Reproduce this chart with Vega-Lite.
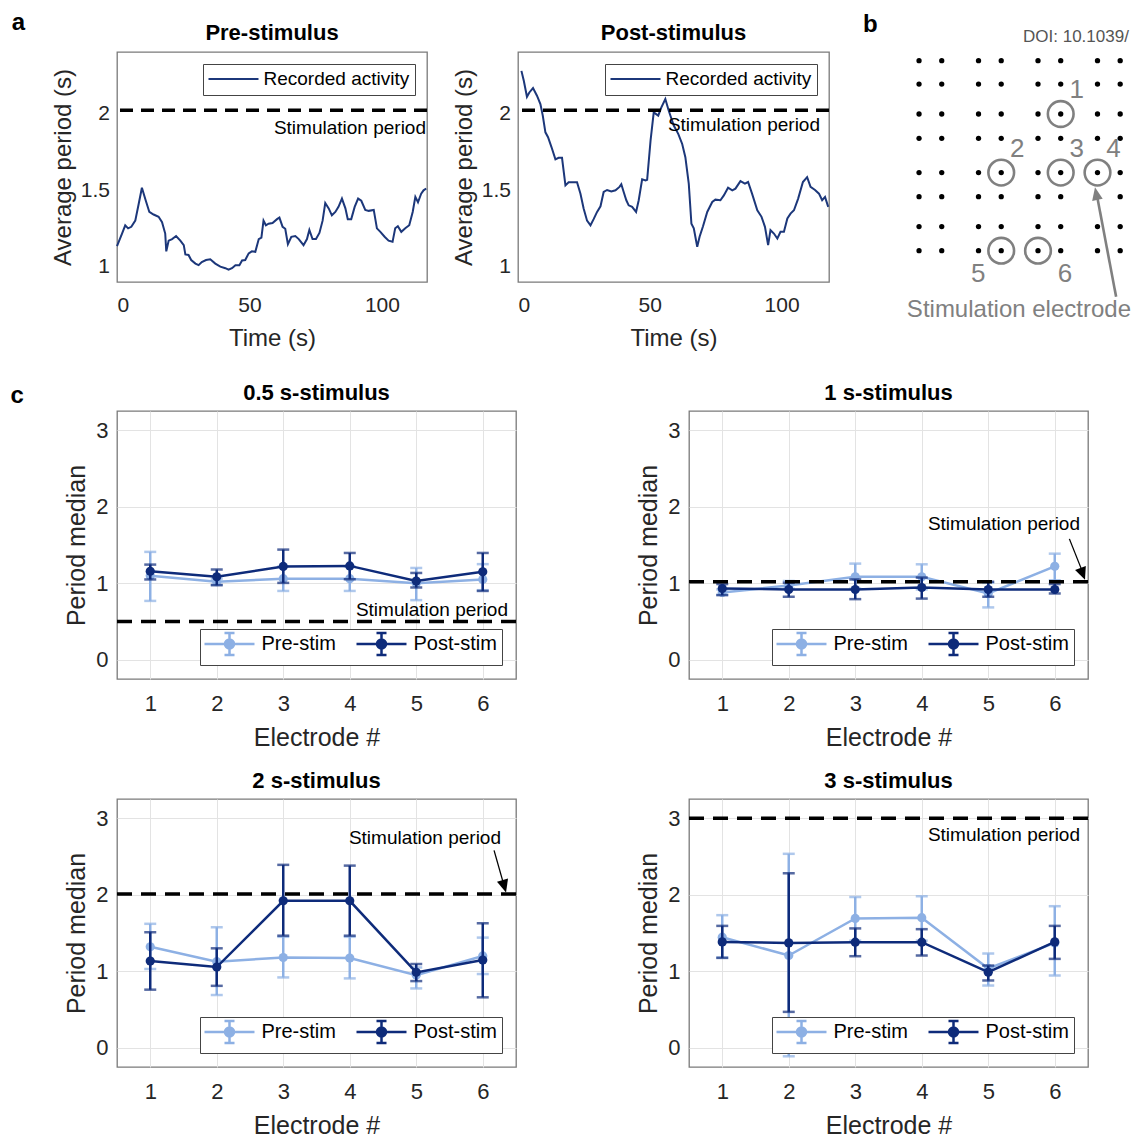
{
"$schema": "https://vega.github.io/schema/vega-lite/v6.json",
"background": "white",
"padding": {"left": 10, "top": 11, "right": 0, "bottom": 0},
"config": {
  "font": "Liberation Sans",
  "view": {"stroke": "#7a7a7a", "strokeWidth": 1.3},
  "title": {"font": "Liberation Sans", "fontSize": 22, "fontWeight": "bold", "color": "black", "frame": "group", "offset": 6},
  "axis": {"labelFont": "Liberation Sans", "titleFont": "Liberation Sans", "labelColor": "#262626", "titleColor": "#262626", "labelFontSize": 22, "titleFontSize": 25, "titleFontWeight": "normal", "domain": false, "ticks": false, "grid": true, "gridColor": "#e3e3e3", "gridWidth": 1},
  "axisX": {"labelPadding": 14, "titlePadding": 11},
  "axisY": {"labelPadding": 9, "titlePadding": 6},
  "legend": {"labelFont": "Liberation Sans", "labelColor": "black"}
},
"datasets": {
  "pre": [
    {"t":0,"v":1.134},{"t":1.9,"v":1.216},{"t":3.1,"v":1.27},{"t":4.2,"v":1.25},{"t":5.4,"v":1.26},{"t":6.9,"v":1.30},{"t":8.2,"v":1.41},{"t":9.4,"v":1.515},{"t":10.7,"v":1.44},{"t":12.2,"v":1.357},{"t":13.8,"v":1.34},{"t":15.7,"v":1.325},{"t":17,"v":1.29},{"t":18.2,"v":1.216},{"t":18.6,"v":1.10},{"t":19.5,"v":1.17},{"t":20.8,"v":1.18},{"t":22.3,"v":1.20},{"t":23.9,"v":1.17},{"t":25.2,"v":1.14},{"t":25.8,"v":1.08},{"t":27,"v":1.076},{"t":28,"v":1.043},{"t":29.6,"v":1.02},{"t":30.8,"v":1.01},{"t":32,"v":1.03},{"t":33.6,"v":1.043},{"t":35.2,"v":1.048},{"t":37.1,"v":1.02},{"t":39,"v":1.0},{"t":40.9,"v":0.99},{"t":42.1,"v":0.98},{"t":43.4,"v":0.99},{"t":44.7,"v":1.01},{"t":46.2,"v":1.01},{"t":47.2,"v":1.04},{"t":48.4,"v":1.043},{"t":49.7,"v":1.087},{"t":50.9,"v":1.10},{"t":52.2,"v":1.097},{"t":53.5,"v":1.18},{"t":54.5,"v":1.19},{"t":55.3,"v":1.30},{"t":56.2,"v":1.27},{"t":57.2,"v":1.28},{"t":58.7,"v":1.285},{"t":60.4,"v":1.31},{"t":61.3,"v":1.32},{"t":62.5,"v":1.26},{"t":63.5,"v":1.247},{"t":64.5,"v":1.147},{"t":65.8,"v":1.195},{"t":67.3,"v":1.2},{"t":68.6,"v":1.18},{"t":70.4,"v":1.14},{"t":71.7,"v":1.18},{"t":72.6,"v":1.24},{"t":73.8,"v":1.18},{"t":75.1,"v":1.18},{"t":76.4,"v":1.22},{"t":77.6,"v":1.30},{"t":78.6,"v":1.415},{"t":79.9,"v":1.38},{"t":81.1,"v":1.335},{"t":82.4,"v":1.357},{"t":83.6,"v":1.39},{"t":84.9,"v":1.444},{"t":86.2,"v":1.38},{"t":87.1,"v":1.31},{"t":88.4,"v":1.31},{"t":89.7,"v":1.39},{"t":91,"v":1.444},{"t":92.2,"v":1.43},{"t":93.7,"v":1.37},{"t":95,"v":1.364},{"t":96.9,"v":1.37},{"t":98.1,"v":1.25},{"t":99.4,"v":1.227},{"t":101,"v":1.195},{"t":102.5,"v":1.17},{"t":104,"v":1.162},{"t":105,"v":1.25},{"t":106,"v":1.264},{"t":107.3,"v":1.227},{"t":108.8,"v":1.25},{"t":110.3,"v":1.27},{"t":111.6,"v":1.357},{"t":112.6,"v":1.455},{"t":113.6,"v":1.42},{"t":114.8,"v":1.476},{"t":115.7,"v":1.498},{"t":116.7,"v":1.51}
  ],
  "post": [
    {"t":1.3,"v":2.277},{"t":2.2,"v":2.212},{"t":3.4,"v":2.108},{"t":4.3,"v":2.136},{"t":5.7,"v":2.165},{"t":7.2,"v":2.115},{"t":8.5,"v":2.06},{"t":9.4,"v":1.985},{"t":10.4,"v":1.876},{"t":11.4,"v":1.844},{"t":12.7,"v":1.78},{"t":14.2,"v":1.70},{"t":15.4,"v":1.71},{"t":16.7,"v":1.71},{"t":18,"v":1.53},{"t":19.2,"v":1.55},{"t":20.8,"v":1.55},{"t":22.4,"v":1.55},{"t":23.7,"v":1.476},{"t":24.9,"v":1.38},{"t":26.2,"v":1.30},{"t":27.5,"v":1.27},{"t":28.7,"v":1.31},{"t":30,"v":1.357},{"t":31.3,"v":1.394},{"t":32.5,"v":1.487},{"t":33.8,"v":1.50},{"t":35.4,"v":1.49},{"t":37,"v":1.498},{"t":38.5,"v":1.52},{"t":39.2,"v":1.537},{"t":40.1,"v":1.487},{"t":41.1,"v":1.433},{"t":42,"v":1.40},{"t":43.3,"v":1.39},{"t":44.8,"v":1.357},{"t":45.8,"v":1.433},{"t":47.1,"v":1.57},{"t":48.4,"v":1.563},{"t":49,"v":1.567},{"t":50.3,"v":1.823},{"t":51.5,"v":2.006},{"t":53.2,"v":1.985},{"t":54.4,"v":2.039},{"t":55.9,"v":2.093},{"t":57.2,"v":2.017},{"t":59.1,"v":1.92},{"t":60.8,"v":1.866},{"t":62.3,"v":1.80},{"t":63.5,"v":1.714},{"t":64.8,"v":1.54},{"t":65.8,"v":1.28},{"t":66.7,"v":1.25},{"t":68,"v":1.13},{"t":68.9,"v":1.195},{"t":70.2,"v":1.264},{"t":71.8,"v":1.357},{"t":73.7,"v":1.422},{"t":74.9,"v":1.437},{"t":76.8,"v":1.433},{"t":78.1,"v":1.465},{"t":79.7,"v":1.515},{"t":81.3,"v":1.498},{"t":82.5,"v":1.509},{"t":84.4,"v":1.558},{"t":86.1,"v":1.541},{"t":87.3,"v":1.552},{"t":88.8,"v":1.476},{"t":90.8,"v":1.368},{"t":92.4,"v":1.325},{"t":93.7,"v":1.26},{"t":94.9,"v":1.14},{"t":95.8,"v":1.238},{"t":97.1,"v":1.216},{"t":98.4,"v":1.184},{"t":99.6,"v":1.227},{"t":100.9,"v":1.227},{"t":102.2,"v":1.314},{"t":103.4,"v":1.346},{"t":104.7,"v":1.368},{"t":106.3,"v":1.444},{"t":108.1,"v":1.552},{"t":109.7,"v":1.584},{"t":111,"v":1.52},{"t":112.7,"v":1.50},{"t":114.2,"v":1.476},{"t":115.4,"v":1.433},{"t":116.5,"v":1.455},{"t":117.7,"v":1.39}
  ],
  "c": [
    {"stim":"0.5 s","electrode":1,"cond":"Pre-stim","median":1.097,"lo":0.77,"hi":1.41},
    {"stim":"0.5 s","electrode":2,"cond":"Pre-stim","median":1.02,"lo":0.98,"hi":1.06},
    {"stim":"0.5 s","electrode":3,"cond":"Pre-stim","median":1.06,"lo":0.90,"hi":1.22},
    {"stim":"0.5 s","electrode":4,"cond":"Pre-stim","median":1.06,"lo":0.90,"hi":1.22},
    {"stim":"0.5 s","electrode":5,"cond":"Pre-stim","median":1.0,"lo":0.78,"hi":1.2},
    {"stim":"0.5 s","electrode":6,"cond":"Pre-stim","median":1.05,"lo":0.91,"hi":1.25},
    {"stim":"0.5 s","electrode":1,"cond":"Post-stim","median":1.157,"lo":1.05,"hi":1.244},
    {"stim":"0.5 s","electrode":2,"cond":"Post-stim","median":1.084,"lo":0.975,"hi":1.18},
    {"stim":"0.5 s","electrode":3,"cond":"Post-stim","median":1.22,"lo":1.005,"hi":1.44},
    {"stim":"0.5 s","electrode":4,"cond":"Post-stim","median":1.227,"lo":1.053,"hi":1.396},
    {"stim":"0.5 s","electrode":5,"cond":"Post-stim","median":1.03,"lo":0.945,"hi":1.135},
    {"stim":"0.5 s","electrode":6,"cond":"Post-stim","median":1.15,"lo":0.90,"hi":1.396},
    {"stim":"1 s","electrode":1,"cond":"Pre-stim","median":0.88,"lo":0.85,"hi":0.92},
    {"stim":"1 s","electrode":2,"cond":"Pre-stim","median":0.97,"lo":0.93,"hi":1.03},
    {"stim":"1 s","electrode":3,"cond":"Pre-stim","median":1.084,"lo":0.93,"hi":1.257},
    {"stim":"1 s","electrode":4,"cond":"Pre-stim","median":1.084,"lo":0.92,"hi":1.248},
    {"stim":"1 s","electrode":5,"cond":"Pre-stim","median":0.867,"lo":0.685,"hi":1.006},
    {"stim":"1 s","electrode":6,"cond":"Pre-stim","median":1.222,"lo":1.04,"hi":1.387},
    {"stim":"1 s","electrode":1,"cond":"Post-stim","median":0.932,"lo":0.845,"hi":0.99},
    {"stim":"1 s","electrode":2,"cond":"Post-stim","median":0.919,"lo":0.824,"hi":1.006},
    {"stim":"1 s","electrode":3,"cond":"Post-stim","median":0.919,"lo":0.793,"hi":1.05},
    {"stim":"1 s","electrode":4,"cond":"Post-stim","median":0.945,"lo":0.80,"hi":1.075},
    {"stim":"1 s","electrode":5,"cond":"Post-stim","median":0.919,"lo":0.824,"hi":1.02},
    {"stim":"1 s","electrode":6,"cond":"Post-stim","median":0.919,"lo":0.867,"hi":0.99},
    {"stim":"2 s","electrode":1,"cond":"Pre-stim","median":1.32,"lo":1.03,"hi":1.62},
    {"stim":"2 s","electrode":2,"cond":"Pre-stim","median":1.125,"lo":0.69,"hi":1.575},
    {"stim":"2 s","electrode":3,"cond":"Pre-stim","median":1.18,"lo":0.92,"hi":1.45},
    {"stim":"2 s","electrode":4,"cond":"Pre-stim","median":1.173,"lo":0.907,"hi":1.45},
    {"stim":"2 s","electrode":5,"cond":"Pre-stim","median":0.95,"lo":0.776,"hi":1.05},
    {"stim":"2 s","electrode":6,"cond":"Pre-stim","median":1.2,"lo":0.964,"hi":1.44},
    {"stim":"2 s","electrode":1,"cond":"Post-stim","median":1.134,"lo":0.76,"hi":1.51},
    {"stim":"2 s","electrode":2,"cond":"Post-stim","median":1.055,"lo":0.81,"hi":1.30},
    {"stim":"2 s","electrode":3,"cond":"Post-stim","median":1.92,"lo":1.465,"hi":2.39},
    {"stim":"2 s","electrode":4,"cond":"Post-stim","median":1.92,"lo":1.465,"hi":2.38},
    {"stim":"2 s","electrode":5,"cond":"Post-stim","median":0.986,"lo":0.872,"hi":1.095},
    {"stim":"2 s","electrode":6,"cond":"Post-stim","median":1.147,"lo":0.66,"hi":1.627},
    {"stim":"3 s","electrode":1,"cond":"Pre-stim","median":1.445,"lo":1.18,"hi":1.733},
    {"stim":"3 s","electrode":2,"cond":"Pre-stim","median":1.206,"lo":-0.11,"hi":2.534},
    {"stim":"3 s","electrode":3,"cond":"Pre-stim","median":1.69,"lo":1.40,"hi":1.97},
    {"stim":"3 s","electrode":4,"cond":"Pre-stim","median":1.70,"lo":1.40,"hi":1.98},
    {"stim":"3 s","electrode":5,"cond":"Pre-stim","median":1.036,"lo":0.814,"hi":1.232},
    {"stim":"3 s","electrode":6,"cond":"Pre-stim","median":1.371,"lo":0.945,"hi":1.85},
    {"stim":"3 s","electrode":1,"cond":"Post-stim","median":1.384,"lo":1.175,"hi":1.593},
    {"stim":"3 s","electrode":2,"cond":"Post-stim","median":1.371,"lo":0.47,"hi":2.28},
    {"stim":"3 s","electrode":3,"cond":"Post-stim","median":1.38,"lo":1.197,"hi":1.56},
    {"stim":"3 s","electrode":4,"cond":"Post-stim","median":1.38,"lo":1.206,"hi":1.55},
    {"stim":"3 s","electrode":5,"cond":"Post-stim","median":0.988,"lo":0.88,"hi":1.075},
    {"stim":"3 s","electrode":6,"cond":"Post-stim","median":1.384,"lo":1.162,"hi":1.593}
  ],
  "grid": [
    {"gx":2.6,"gy":0.382},{"gx":3.6,"gy":0.382},{"gx":5.22,"gy":0.382},{"gx":6.22,"gy":0.382},{"gx":7.84,"gy":0.382},{"gx":8.84,"gy":0.382},{"gx":10.46,"gy":0.382},{"gx":11.46,"gy":0.382},
    {"gx":2.6,"gy":1.412},{"gx":3.6,"gy":1.412},{"gx":5.22,"gy":1.412},{"gx":6.22,"gy":1.412},{"gx":7.84,"gy":1.412},{"gx":8.84,"gy":1.412},{"gx":10.46,"gy":1.412},{"gx":11.46,"gy":1.412},
    {"gx":2.6,"gy":2.732},{"gx":3.6,"gy":2.732},{"gx":5.22,"gy":2.732},{"gx":6.22,"gy":2.732},{"gx":7.84,"gy":2.732},{"gx":8.84,"gy":2.732},{"gx":10.46,"gy":2.732},{"gx":11.46,"gy":2.732},
    {"gx":2.6,"gy":3.802},{"gx":3.6,"gy":3.802},{"gx":5.22,"gy":3.802},{"gx":6.22,"gy":3.802},{"gx":7.84,"gy":3.802},{"gx":8.84,"gy":3.802},{"gx":10.46,"gy":3.802},{"gx":11.46,"gy":3.802},
    {"gx":2.6,"gy":5.312},{"gx":3.6,"gy":5.312},{"gx":5.22,"gy":5.312},{"gx":6.22,"gy":5.312},{"gx":7.84,"gy":5.312},{"gx":8.84,"gy":5.312},{"gx":10.46,"gy":5.312},{"gx":11.46,"gy":5.312},
    {"gx":2.6,"gy":6.372},{"gx":3.6,"gy":6.372},{"gx":5.22,"gy":6.372},{"gx":6.22,"gy":6.372},{"gx":7.84,"gy":6.372},{"gx":8.84,"gy":6.372},{"gx":11.46,"gy":6.372},
    {"gx":2.6,"gy":7.692},{"gx":3.6,"gy":7.692},{"gx":5.22,"gy":7.692},{"gx":6.22,"gy":7.692},{"gx":7.84,"gy":7.692},{"gx":8.84,"gy":7.692},{"gx":10.46,"gy":7.692},{"gx":11.46,"gy":7.692},
    {"gx":2.6,"gy":8.752},{"gx":3.6,"gy":8.752},{"gx":5.22,"gy":8.752},{"gx":6.22,"gy":8.752},{"gx":7.84,"gy":8.752},{"gx":8.84,"gy":8.752},{"gx":10.46,"gy":8.752},{"gx":11.46,"gy":8.752}
  ],
  "elec": [
    {"n":"1","gx":8.84,"gy":2.732},{"n":"2","gx":6.22,"gy":5.312},{"n":"3","gx":8.84,"gy":5.312},{"n":"4","gx":10.46,"gy":5.312},{"n":"5","gx":6.22,"gy":8.752},{"n":"6","gx":7.84,"gy":8.752}
  ]
},
"spacing": 30,
"resolve": {"scale": {"color": "independent"}, "legend": {"color": "independent"}},
"vconcat": [
  {"resolve": {"scale": {"color": "independent"}, "legend": {"color": "independent"}},
   "hconcat": [
    {"title": {"text": "a", "anchor": "start", "frame": "bounds", "fontSize": 24, "fontWeight": "bold", "color": "black", "dx": -39, "offset": -14},
     "resolve": {"scale": {"color": "independent"}, "legend": {"color": "independent"}},
     "spacing": 20,
     "hconcat": [
      {"width": 310, "height": 230,
       "title": {"text": "Pre-stimulus", "offset": 7},
       "layer": [
        {"data": {"name": "pre"},
         "mark": {"type": "line", "strokeWidth": 2},
         "encoding": {
          "x": {"field": "t", "type": "quantitative", "scale": {"domain": [0, 117], "nice": false, "zero": false}, "axis": {"values": [0, 50, 100], "title": "Time (s)", "grid": false, "labelFontSize": 21, "titleFontSize": 24, "labelPadding": 12, "titlePadding": 11}},
          "y": {"field": "v", "type": "quantitative", "scale": {"domain": [0.9, 2.4], "nice": false, "zero": false}, "axis": {"values": [1, 1.5, 2], "format": "~g", "title": "Average period (s)", "grid": false, "labelFontSize": 21, "titleFontSize": 24, "labelPadding": 7.5, "titlePadding": 5}},
          "color": {"datum": "Recorded activity", "scale": {"range": ["#1c377a"]}, "legend": {"title": null, "orient": "top-right", "offset": 12, "symbolType": "M-3.333,0H3.333", "symbolSize": 225, "symbolOffset": 15.5, "symbolStrokeWidth": 2, "labelFontSize": 19, "labelOffset": 20.5, "padding": 5.5, "strokeColor": "#444", "fillColor": "white"}}
         }},
        {"data": {"values": [{}]}, "mark": {"type": "rule", "color": "black", "strokeWidth": 3.5, "strokeDash": [13, 8]}, "encoding": {"y": {"datum": 2.02}}},
        {"data": {"values": [{}]}, "mark": {"type": "text", "text": "Stimulation period", "align": "right", "baseline": "alphabetic", "fontSize": 19, "color": "black", "dx": -1}, "encoding": {"x": {"datum": 117}, "y": {"datum": 1.868}}}
       ]},
      {"width": 311, "height": 230,
       "title": {"text": "Post-stimulus", "offset": 7},
       "layer": [
        {"data": {"name": "post"},
         "mark": {"type": "line", "strokeWidth": 2},
         "encoding": {
          "x": {"field": "t", "type": "quantitative", "scale": {"domain": [0, 118], "nice": false, "zero": false}, "axis": {"values": [0, 50, 100], "title": "Time (s)", "grid": false, "labelFontSize": 21, "titleFontSize": 24, "labelPadding": 12, "titlePadding": 11}},
          "y": {"field": "v", "type": "quantitative", "scale": {"domain": [0.9, 2.4], "nice": false, "zero": false}, "axis": {"values": [1, 1.5, 2], "format": "~g", "title": "Average period (s)", "grid": false, "labelFontSize": 21, "titleFontSize": 24, "labelPadding": 7.5, "titlePadding": 5}},
          "color": {"datum": "Recorded activity", "scale": {"range": ["#1c377a"]}, "legend": {"title": null, "orient": "top-right", "offset": 12, "symbolType": "M-3.333,0H3.333", "symbolSize": 225, "symbolOffset": 15.5, "symbolStrokeWidth": 2, "labelFontSize": 19, "labelOffset": 20.5, "padding": 5.5, "strokeColor": "#444", "fillColor": "white"}}
         }},
        {"data": {"values": [{}]}, "mark": {"type": "rule", "color": "black", "strokeWidth": 3.5, "strokeDash": [13, 8]}, "encoding": {"y": {"datum": 2.02}}},
        {"data": {"values": [{}]}, "mark": {"type": "text", "text": "Stimulation period", "align": "right", "baseline": "alphabetic", "fontSize": 19, "color": "black", "dx": -9}, "encoding": {"x": {"datum": 118}, "y": {"datum": 1.887}}}
       ]}
     ]},
    {"width": 277, "height": 290,
     "view": {"stroke": null},
     "layer": [
       {"data": {"name": "grid"}, "mark": {"type": "point", "filled": true, "color": "black", "size": 28, "opacity": 1},
        "encoding": {
          "x": {"field": "gx", "type": "quantitative", "scale": {"domain": [0, 12.2], "nice": false, "zero": false}, "axis": null},
          "y": {"field": "gy", "type": "quantitative", "scale": {"domain": [0, 12.775], "reverse": true, "nice": false, "zero": false}, "axis": null}}},
       {"data": {"name": "elec"}, "mark": {"type": "point", "filled": false, "color": "#808080", "size": 660, "strokeWidth": 2.6, "opacity": 1},
        "encoding": {"x": {"field": "gx", "type": "quantitative", "axis": null}, "y": {"field": "gy", "type": "quantitative", "axis": null}}},
       {"data": {"name": "elec"}, "transform": [{"filter": "datum.n <= '4'"}], "mark": {"type": "text", "color": "#808080", "fontSize": 26, "align": "center", "baseline": "middle", "dx": 16, "dy": -24},
        "encoding": {"x": {"field": "gx", "type": "quantitative", "axis": null}, "y": {"field": "gy", "type": "quantitative", "axis": null}, "text": {"field": "n"}}},
       {"data": {"name": "elec"}, "transform": [{"filter": "datum.n === '5'"}], "mark": {"type": "text", "color": "#808080", "fontSize": 26, "align": "center", "baseline": "middle", "dx": -23, "dy": 23},
        "encoding": {"x": {"field": "gx", "type": "quantitative", "axis": null}, "y": {"field": "gy", "type": "quantitative", "axis": null}, "text": {"field": "n"}}},
       {"data": {"name": "elec"}, "transform": [{"filter": "datum.n === '6'"}], "mark": {"type": "text", "color": "#808080", "fontSize": 26, "align": "center", "baseline": "middle", "dx": 27, "dy": 23},
        "encoding": {"x": {"field": "gx", "type": "quantitative", "axis": null}, "y": {"field": "gy", "type": "quantitative", "axis": null}, "text": {"field": "n"}}},
       {"data": {"values": [{}]}, "mark": {"type": "rule", "color": "#808080", "strokeWidth": 2.6},
        "encoding": {"x": {"datum": 11.28, "type": "quantitative", "axis": null}, "y": {"datum": 10.78, "type": "quantitative", "axis": null}, "x2": {"datum": 10.42}, "y2": {"datum": 6.232}}},
       {"data": {"values": [{}]}, "mark": {"type": "point", "shape": "M0,0L-0.42,1L0.42,1Z", "filled": true, "color": "#808080", "size": 650, "angle": -11, "opacity": 1},
        "encoding": {"x": {"datum": 10.35, "type": "quantitative", "axis": null}, "y": {"datum": 5.962, "type": "quantitative", "axis": null}}},
       {"data": {"values": [{}]}, "mark": {"type": "text", "text": "Stimulation electrode", "color": "#808080", "fontSize": 24, "align": "center", "baseline": "middle"},
        "encoding": {"x": {"datum": 7.0, "type": "quantitative", "axis": null}, "y": {"datum": 11.36, "type": "quantitative", "axis": null}}},
       {"data": {"values": [{}]}, "mark": {"type": "text", "text": "b", "color": "black", "fontSize": 24, "fontWeight": "bold", "align": "left", "baseline": "middle"},
        "encoding": {"x": {"datum": 0.13, "type": "quantitative", "axis": null}, "y": {"datum": -1.19, "type": "quantitative", "axis": null}}},
       {"data": {"values": [{}]}, "mark": {"type": "text", "text": "DOI: 10.1039/", "color": "#555555", "fontSize": 17, "align": "left", "baseline": "middle"},
        "encoding": {"x": {"datum": 7.18, "type": "quantitative", "axis": null}, "y": {"datum": -0.658, "type": "quantitative", "axis": null}}}
     ]}
  ], "spacing": 27},
  {"title": {"text": "c", "anchor": "start", "frame": "bounds", "fontSize": 24, "fontWeight": "bold", "color": "black", "dx": -53.5, "offset": -27},
   "resolve": {"scale": {"color": "independent"}, "legend": {"color": "independent"}},
   "spacing": 18,
   "vconcat": [
    {"spacing": 117, "resolve": {"scale": {"color": "independent"}, "legend": {"color": "independent"}}, "hconcat": [
      {"width": 399, "height": 268, "title": {"text": "0.5 s-stimulus"},
       "layer": [
        {"data": {"name": "c"}, "transform": [{"filter": "datum.stim === '0.5 s'"}],
         "encoding": {
           "x": {"field": "electrode", "type": "quantitative", "scale": {"domain": [0.5, 6.5], "nice": false, "zero": false}, "axis": {"values": [1,2,3,4,5,6], "format": "d", "title": "Electrode #"}},
           "y": {"field": "median", "type": "quantitative", "scale": {"domain": [-0.25, 3.25], "nice": false, "zero": false}, "axis": {"values": [0,1,2,3], "format": "d", "title": "Period median"}},
           "color": {"field": "cond", "type": "nominal", "scale": {"domain": ["Pre-stim", "Post-stim"], "range": ["#8db0e4", "#0e2b7a"]}, "legend": {"title": null, "orient": "bottom-right", "offset": 14, "direction": "horizontal", "symbolType": "M-3.333,0H3.333M0,-1.467V1.467M-0.667,-1.467H0.667M-0.667,1.467H0.667M-0.6,0A0.6,0.6,0,1,1,0.6,0A0.6,0.6,0,1,1,-0.6,0Z", "symbolSize": 225, "symbolOffset": 15, "symbolStrokeWidth": 2.5, "labelFontSize": 20, "labelOffset": 22, "columnPadding": 15, "padding": 4.5, "strokeColor": "#444", "fillColor": "white", "encode": {"symbols": {"update": {"fill": {"signal": "datum.value === 'Pre-stim' ? '#8db0e4' : '#0e2b7a'"}, "stroke": {"signal": "datum.value === 'Pre-stim' ? '#8db0e4' : '#0e2b7a'"}, "opacity": {"value": 1}}}}}}
         },
         "layer": [
          {"transform": [{"filter": "datum.cond === 'Pre-stim'"}], "layer": [
            {"mark": {"type": "rule", "strokeWidth": 2.5}, "encoding": {"y": {"field": "lo", "type": "quantitative"}, "y2": {"field": "hi"}}},
            {"mark": {"type": "tick", "orient": "horizontal", "size": 12, "thickness": 2.5}, "encoding": {"y": {"field": "lo", "type": "quantitative"}}},
            {"mark": {"type": "tick", "orient": "horizontal", "size": 12, "thickness": 2.5}, "encoding": {"y": {"field": "hi", "type": "quantitative"}}},
            {"mark": {"type": "line", "strokeWidth": 2.5, "point": {"filled": true, "size": 85, "opacity": 1}}}
          ]},
          {"transform": [{"filter": "datum.cond === 'Post-stim'"}], "layer": [
            {"mark": {"type": "rule", "strokeWidth": 2.5}, "encoding": {"y": {"field": "lo", "type": "quantitative"}, "y2": {"field": "hi"}}},
            {"mark": {"type": "tick", "orient": "horizontal", "size": 12, "thickness": 2.5}, "encoding": {"y": {"field": "lo", "type": "quantitative"}}},
            {"mark": {"type": "tick", "orient": "horizontal", "size": 12, "thickness": 2.5}, "encoding": {"y": {"field": "hi", "type": "quantitative"}}},
            {"mark": {"type": "line", "strokeWidth": 2.5, "point": {"filled": true, "size": 85, "opacity": 1}}}
          ]}
         ]},
        {"data": {"values": [{}]}, "mark": {"type": "rule", "color": "black", "strokeWidth": 3.5, "strokeDash": [15, 9]}, "encoding": {"y": {"datum": 0.5}}},
        {"data": {"values": [{}]}, "mark": {"type": "text", "text": "Stimulation period", "align": "right", "baseline": "alphabetic", "fontSize": 19, "color": "black", "dx": -8, "dy": -6}, "encoding": {"x": {"datum": 6.5}, "y": {"datum": 0.5}}}
       ]},
      {"width": 399, "height": 268, "title": {"text": "1 s-stimulus"},
       "layer": [
        {"data": {"name": "c"}, "transform": [{"filter": "datum.stim === '1 s'"}],
         "encoding": {
           "x": {"field": "electrode", "type": "quantitative", "scale": {"domain": [0.5, 6.5], "nice": false, "zero": false}, "axis": {"values": [1,2,3,4,5,6], "format": "d", "title": "Electrode #"}},
           "y": {"field": "median", "type": "quantitative", "scale": {"domain": [-0.25, 3.25], "nice": false, "zero": false}, "axis": {"values": [0,1,2,3], "format": "d", "title": "Period median"}},
           "color": {"field": "cond", "type": "nominal", "scale": {"domain": ["Pre-stim", "Post-stim"], "range": ["#8db0e4", "#0e2b7a"]}, "legend": {"title": null, "orient": "bottom-right", "offset": 14, "direction": "horizontal", "symbolType": "M-3.333,0H3.333M0,-1.467V1.467M-0.667,-1.467H0.667M-0.667,1.467H0.667M-0.6,0A0.6,0.6,0,1,1,0.6,0A0.6,0.6,0,1,1,-0.6,0Z", "symbolSize": 225, "symbolOffset": 15, "symbolStrokeWidth": 2.5, "labelFontSize": 20, "labelOffset": 22, "columnPadding": 15, "padding": 4.5, "strokeColor": "#444", "fillColor": "white", "encode": {"symbols": {"update": {"fill": {"signal": "datum.value === 'Pre-stim' ? '#8db0e4' : '#0e2b7a'"}, "stroke": {"signal": "datum.value === 'Pre-stim' ? '#8db0e4' : '#0e2b7a'"}, "opacity": {"value": 1}}}}}}
         },
         "layer": [
          {"transform": [{"filter": "datum.cond === 'Pre-stim'"}], "layer": [
            {"mark": {"type": "rule", "strokeWidth": 2.5}, "encoding": {"y": {"field": "lo", "type": "quantitative"}, "y2": {"field": "hi"}}},
            {"mark": {"type": "tick", "orient": "horizontal", "size": 12, "thickness": 2.5}, "encoding": {"y": {"field": "lo", "type": "quantitative"}}},
            {"mark": {"type": "tick", "orient": "horizontal", "size": 12, "thickness": 2.5}, "encoding": {"y": {"field": "hi", "type": "quantitative"}}},
            {"mark": {"type": "line", "strokeWidth": 2.5, "point": {"filled": true, "size": 85, "opacity": 1}}}
          ]},
          {"transform": [{"filter": "datum.cond === 'Post-stim'"}], "layer": [
            {"mark": {"type": "rule", "strokeWidth": 2.5}, "encoding": {"y": {"field": "lo", "type": "quantitative"}, "y2": {"field": "hi"}}},
            {"mark": {"type": "tick", "orient": "horizontal", "size": 12, "thickness": 2.5}, "encoding": {"y": {"field": "lo", "type": "quantitative"}}},
            {"mark": {"type": "tick", "orient": "horizontal", "size": 12, "thickness": 2.5}, "encoding": {"y": {"field": "hi", "type": "quantitative"}}},
            {"mark": {"type": "line", "strokeWidth": 2.5, "point": {"filled": true, "size": 85, "opacity": 1}}}
          ]}
         ]},
        {"data": {"values": [{}]}, "mark": {"type": "rule", "color": "black", "strokeWidth": 3.5, "strokeDash": [15, 9]}, "encoding": {"y": {"datum": 1.02}}},
        {"data": {"values": [{}]}, "mark": {"type": "text", "text": "Stimulation period", "align": "right", "baseline": "alphabetic", "fontSize": 19, "color": "black", "dx": -8}, "encoding": {"x": {"datum": 6.5}, "y": {"datum": 1.70}}},
        {"data": {"values": [{}]}, "mark": {"type": "rule", "color": "black", "strokeWidth": 1.3}, "encoding": {"x": {"datum": 6.22}, "y": {"datum": 1.58}, "x2": {"datum": 6.44}, "y2": {"datum": 1.10}}},
        {"data": {"values": [{}]}, "mark": {"type": "point", "shape": "M0,0L-0.45,-1L0.45,-1Z", "filled": true, "color": "black", "size": 650, "angle": -21, "opacity": 1}, "encoding": {"x": {"datum": 6.455}, "y": {"datum": 1.045}}}
       ]}
    ]},
    {"spacing": 117, "resolve": {"scale": {"color": "independent"}, "legend": {"color": "independent"}}, "hconcat": [
      {"width": 399, "height": 268, "title": {"text": "2 s-stimulus"},
       "layer": [
        {"data": {"name": "c"}, "transform": [{"filter": "datum.stim === '2 s'"}],
         "encoding": {
           "x": {"field": "electrode", "type": "quantitative", "scale": {"domain": [0.5, 6.5], "nice": false, "zero": false}, "axis": {"values": [1,2,3,4,5,6], "format": "d", "title": "Electrode #"}},
           "y": {"field": "median", "type": "quantitative", "scale": {"domain": [-0.25, 3.25], "nice": false, "zero": false}, "axis": {"values": [0,1,2,3], "format": "d", "title": "Period median"}},
           "color": {"field": "cond", "type": "nominal", "scale": {"domain": ["Pre-stim", "Post-stim"], "range": ["#8db0e4", "#0e2b7a"]}, "legend": {"title": null, "orient": "bottom-right", "offset": 14, "direction": "horizontal", "symbolType": "M-3.333,0H3.333M0,-1.467V1.467M-0.667,-1.467H0.667M-0.667,1.467H0.667M-0.6,0A0.6,0.6,0,1,1,0.6,0A0.6,0.6,0,1,1,-0.6,0Z", "symbolSize": 225, "symbolOffset": 15, "symbolStrokeWidth": 2.5, "labelFontSize": 20, "labelOffset": 22, "columnPadding": 15, "padding": 4.5, "strokeColor": "#444", "fillColor": "white", "encode": {"symbols": {"update": {"fill": {"signal": "datum.value === 'Pre-stim' ? '#8db0e4' : '#0e2b7a'"}, "stroke": {"signal": "datum.value === 'Pre-stim' ? '#8db0e4' : '#0e2b7a'"}, "opacity": {"value": 1}}}}}}
         },
         "layer": [
          {"transform": [{"filter": "datum.cond === 'Pre-stim'"}], "layer": [
            {"mark": {"type": "rule", "strokeWidth": 2.5}, "encoding": {"y": {"field": "lo", "type": "quantitative"}, "y2": {"field": "hi"}}},
            {"mark": {"type": "tick", "orient": "horizontal", "size": 12, "thickness": 2.5}, "encoding": {"y": {"field": "lo", "type": "quantitative"}}},
            {"mark": {"type": "tick", "orient": "horizontal", "size": 12, "thickness": 2.5}, "encoding": {"y": {"field": "hi", "type": "quantitative"}}},
            {"mark": {"type": "line", "strokeWidth": 2.5, "point": {"filled": true, "size": 85, "opacity": 1}}}
          ]},
          {"transform": [{"filter": "datum.cond === 'Post-stim'"}], "layer": [
            {"mark": {"type": "rule", "strokeWidth": 2.5}, "encoding": {"y": {"field": "lo", "type": "quantitative"}, "y2": {"field": "hi"}}},
            {"mark": {"type": "tick", "orient": "horizontal", "size": 12, "thickness": 2.5}, "encoding": {"y": {"field": "lo", "type": "quantitative"}}},
            {"mark": {"type": "tick", "orient": "horizontal", "size": 12, "thickness": 2.5}, "encoding": {"y": {"field": "hi", "type": "quantitative"}}},
            {"mark": {"type": "line", "strokeWidth": 2.5, "point": {"filled": true, "size": 85, "opacity": 1}}}
          ]}
         ]},
        {"data": {"values": [{}]}, "mark": {"type": "rule", "color": "black", "strokeWidth": 3.5, "strokeDash": [15, 9]}, "encoding": {"y": {"datum": 2.01}}},
        {"data": {"values": [{}]}, "mark": {"type": "text", "text": "Stimulation period", "align": "right", "baseline": "alphabetic", "fontSize": 19, "color": "black", "dx": -15}, "encoding": {"x": {"datum": 6.5}, "y": {"datum": 2.665}}},
        {"data": {"values": [{}]}, "mark": {"type": "rule", "color": "black", "strokeWidth": 1.3}, "encoding": {"x": {"datum": 6.17}, "y": {"datum": 2.58}, "x2": {"datum": 6.33}, "y2": {"datum": 2.09}}},
        {"data": {"values": [{}]}, "mark": {"type": "point", "shape": "M0,0L-0.45,-1L0.45,-1Z", "filled": true, "color": "black", "size": 650, "angle": -16, "opacity": 1}, "encoding": {"x": {"datum": 6.35}, "y": {"datum": 2.03}}}
       ]},
      {"width": 399, "height": 268, "title": {"text": "3 s-stimulus"},
       "layer": [
        {"data": {"name": "c"}, "transform": [{"filter": "datum.stim === '3 s'"}],
         "encoding": {
           "x": {"field": "electrode", "type": "quantitative", "scale": {"domain": [0.5, 6.5], "nice": false, "zero": false}, "axis": {"values": [1,2,3,4,5,6], "format": "d", "title": "Electrode #"}},
           "y": {"field": "median", "type": "quantitative", "scale": {"domain": [-0.25, 3.25], "nice": false, "zero": false}, "axis": {"values": [0,1,2,3], "format": "d", "title": "Period median"}},
           "color": {"field": "cond", "type": "nominal", "scale": {"domain": ["Pre-stim", "Post-stim"], "range": ["#8db0e4", "#0e2b7a"]}, "legend": {"title": null, "orient": "bottom-right", "offset": 14, "direction": "horizontal", "symbolType": "M-3.333,0H3.333M0,-1.467V1.467M-0.667,-1.467H0.667M-0.667,1.467H0.667M-0.6,0A0.6,0.6,0,1,1,0.6,0A0.6,0.6,0,1,1,-0.6,0Z", "symbolSize": 225, "symbolOffset": 15, "symbolStrokeWidth": 2.5, "labelFontSize": 20, "labelOffset": 22, "columnPadding": 15, "padding": 4.5, "strokeColor": "#444", "fillColor": "white", "encode": {"symbols": {"update": {"fill": {"signal": "datum.value === 'Pre-stim' ? '#8db0e4' : '#0e2b7a'"}, "stroke": {"signal": "datum.value === 'Pre-stim' ? '#8db0e4' : '#0e2b7a'"}, "opacity": {"value": 1}}}}}}
         },
         "layer": [
          {"transform": [{"filter": "datum.cond === 'Pre-stim'"}], "layer": [
            {"mark": {"type": "rule", "strokeWidth": 2.5}, "encoding": {"y": {"field": "lo", "type": "quantitative"}, "y2": {"field": "hi"}}},
            {"mark": {"type": "tick", "orient": "horizontal", "size": 12, "thickness": 2.5}, "encoding": {"y": {"field": "lo", "type": "quantitative"}}},
            {"mark": {"type": "tick", "orient": "horizontal", "size": 12, "thickness": 2.5}, "encoding": {"y": {"field": "hi", "type": "quantitative"}}},
            {"mark": {"type": "line", "strokeWidth": 2.5, "point": {"filled": true, "size": 85, "opacity": 1}}}
          ]},
          {"transform": [{"filter": "datum.cond === 'Post-stim'"}], "layer": [
            {"mark": {"type": "rule", "strokeWidth": 2.5}, "encoding": {"y": {"field": "lo", "type": "quantitative"}, "y2": {"field": "hi"}}},
            {"mark": {"type": "tick", "orient": "horizontal", "size": 12, "thickness": 2.5}, "encoding": {"y": {"field": "lo", "type": "quantitative"}}},
            {"mark": {"type": "tick", "orient": "horizontal", "size": 12, "thickness": 2.5}, "encoding": {"y": {"field": "hi", "type": "quantitative"}}},
            {"mark": {"type": "line", "strokeWidth": 2.5, "point": {"filled": true, "size": 85, "opacity": 1}}}
          ]}
         ]},
        {"data": {"values": [{}]}, "mark": {"type": "rule", "color": "black", "strokeWidth": 3.5, "strokeDash": [15, 9]}, "encoding": {"y": {"datum": 3.0}}},
        {"data": {"values": [{}]}, "mark": {"type": "text", "text": "Stimulation period", "align": "right", "baseline": "alphabetic", "fontSize": 19, "color": "black", "dx": -8}, "encoding": {"x": {"datum": 6.5}, "y": {"datum": 2.708}}}
       ]}
    ]}
   ]}
]
}
